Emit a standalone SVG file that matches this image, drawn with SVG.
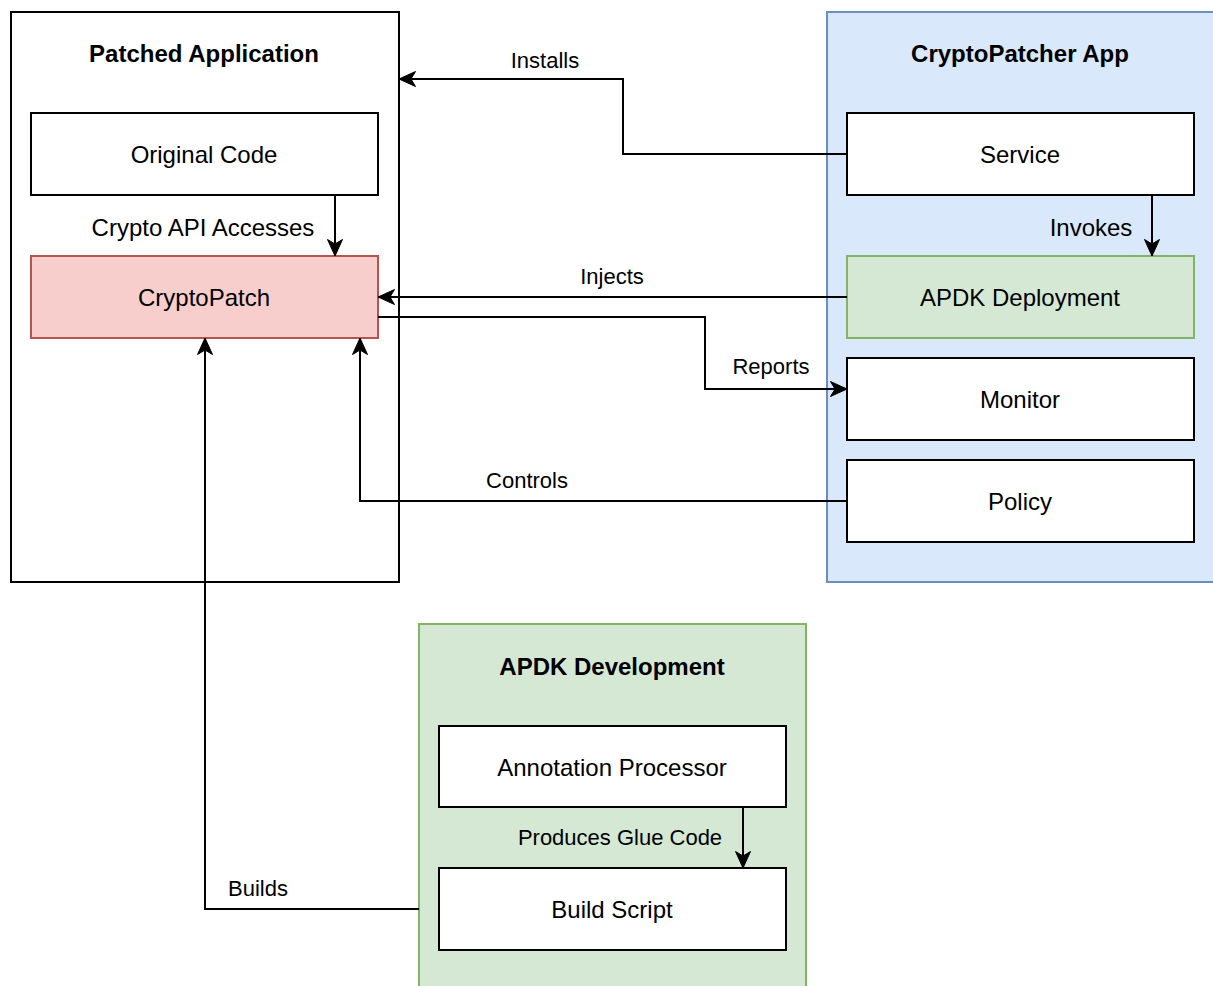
<svg xmlns="http://www.w3.org/2000/svg" width="1213" height="986" viewBox="0 0 1213 986">
<style>
.box{fill:#ffffff;stroke:#000000;stroke-width:2}
.blue{fill:#dae8fc;stroke:#6c8ebf;stroke-width:2}
.green{fill:#d5e8d4;stroke:#82b366;stroke-width:2}
.red{fill:#f8cecc;stroke:#b85450;stroke-width:2}
.t{font-family:"Liberation Sans",Arial,sans-serif;font-size:24px;fill:#000;text-anchor:middle;dominant-baseline:central}
.title{font-family:"Liberation Sans",Arial,sans-serif;font-size:24px;font-weight:bold;fill:#000;text-anchor:middle;dominant-baseline:central}
.lbl{font-family:"Liberation Sans",Arial,sans-serif;font-size:22px;fill:#000;text-anchor:middle;dominant-baseline:central}
.c{fill:none;stroke:#000;stroke-width:2}
</style>
<defs>
<marker id="arr" markerUnits="userSpaceOnUse" markerWidth="18" markerHeight="16" viewBox="0 0 18 16" refX="17" refY="8" orient="auto">
<path d="M0.5,0.5 L17,8 L0.5,15.5 L5,8 Z" fill="#000" stroke="#000" stroke-width="1"/>
</marker>
</defs>
<rect width="1213" height="986" fill="#ffffff"/>
<g id="patched-application">
<rect class="box" x="11" y="12" width="388" height="570"/>
<text class="title" x="204" y="53">Patched Application</text>
</g>
<g id="cryptopatcher-app">
<rect class="blue" x="827" y="12" width="400" height="570"/>
<text class="title" x="1020" y="53">CryptoPatcher App</text>
</g>
<g id="apdk-development">
<rect class="green" x="419" y="624" width="387" height="380"/>
<text class="title" x="612" y="666">APDK Development</text>
</g>
<g id="original-code">
<rect class="box" x="31" y="113" width="347" height="82"/>
<text class="t" x="204" y="154">Original Code</text>
</g>
<g id="cryptopatch">
<rect class="red" x="31" y="256" width="347" height="82"/>
<text class="t" x="204" y="297">CryptoPatch</text>
</g>
<g id="service">
<rect class="box" x="847" y="113" width="347" height="82"/>
<text class="t" x="1020" y="154">Service</text>
</g>
<g id="apdk-deployment">
<rect class="green" x="847" y="256" width="347" height="82"/>
<text class="t" x="1020" y="297">APDK Deployment</text>
</g>
<g id="monitor">
<rect class="box" x="847" y="358" width="347" height="82"/>
<text class="t" x="1020" y="399">Monitor</text>
</g>
<g id="policy">
<rect class="box" x="847" y="460" width="347" height="82"/>
<text class="t" x="1020" y="501">Policy</text>
</g>
<g id="annotation-processor">
<rect class="box" x="439" y="726" width="347" height="81"/>
<text class="t" x="612" y="767">Annotation Processor</text>
</g>
<g id="build-script">
<rect class="box" x="439" y="868" width="347" height="82"/>
<text class="t" x="612" y="909">Build Script</text>
</g>
<g id="connectors">
<path class="c" d="M847,154 L623,154 L623,79 L399,79" marker-end="url(#arr)"/>
<text class="lbl" x="545" y="60">Installs</text>
<path class="c" d="M335,195 L335,256" marker-end="url(#arr)"/>
<text class="t" x="203" y="227">Crypto API Accesses</text>
<path class="c" d="M1152,195 L1152,256" marker-end="url(#arr)"/>
<text class="t" x="1091" y="227">Invokes</text>
<path class="c" d="M847,297 L378,297" marker-end="url(#arr)"/>
<text class="lbl" x="612" y="276">Injects</text>
<path class="c" d="M378,317 L705,317 L705,389 L847,389" marker-end="url(#arr)"/>
<text class="lbl" x="771" y="366">Reports</text>
<path class="c" d="M847,501 L360,501 L360,338" marker-end="url(#arr)"/>
<text class="lbl" x="527" y="480">Controls</text>
<path class="c" d="M419,909 L205,909 L205,338" marker-end="url(#arr)"/>
<text class="lbl" x="258" y="888">Builds</text>
<path class="c" d="M743,807 L743,868" marker-end="url(#arr)"/>
<text class="lbl" x="620" y="837">Produces Glue Code</text>
</g>
</svg>
